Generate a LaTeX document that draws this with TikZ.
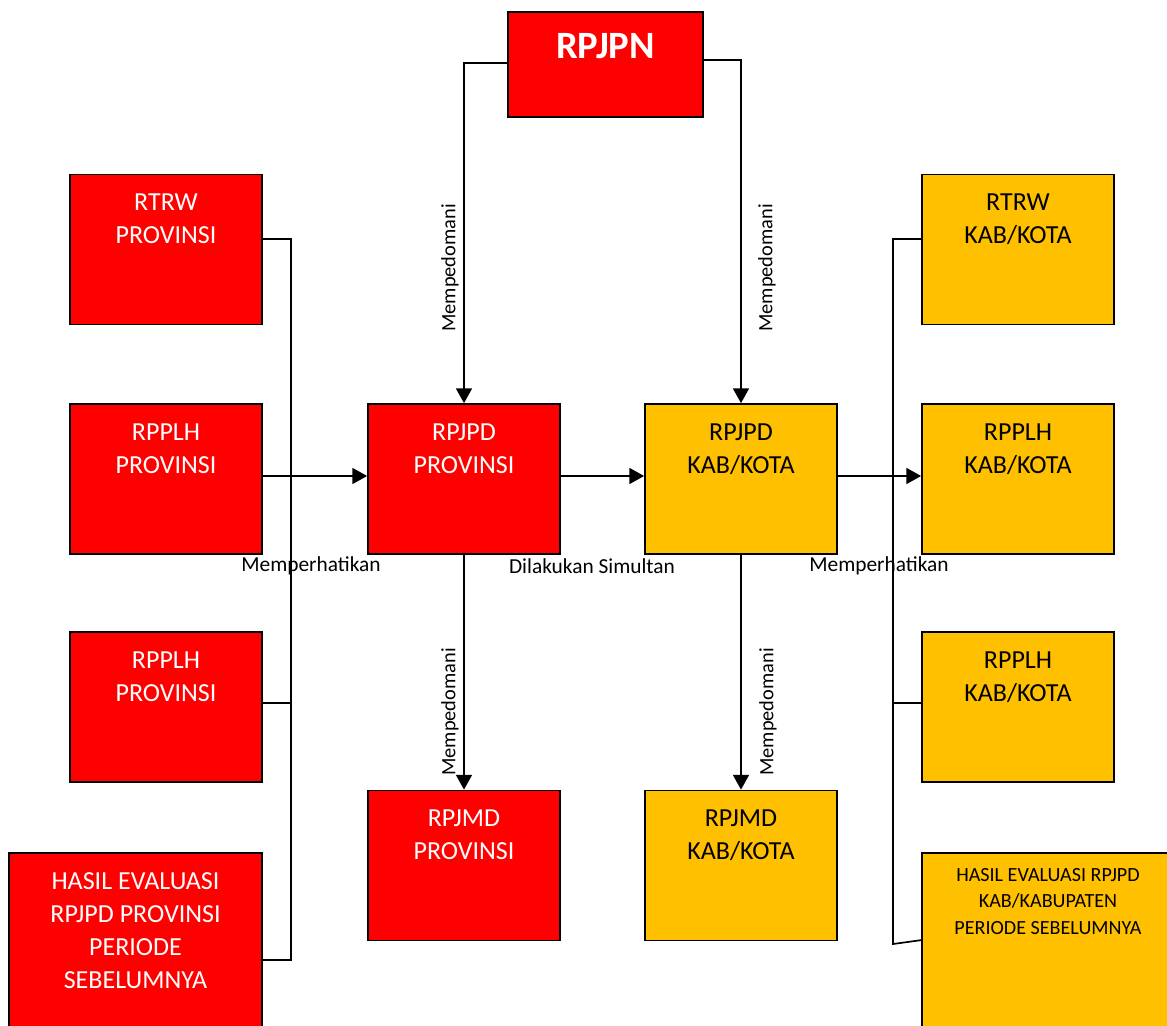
\documentclass[tikz,border=0pt]{standalone}
\usepackage{fontspec}
\setmainfont{Carlito}
\usetikzlibrary{arrows.meta}
\definecolor{kabyellow}{HTML}{FFC000}

\begin{document}
\begin{tikzpicture}[x=0.025cm, y=-0.025cm,
    box/.style={draw=black, line width=1.2pt, inner sep=0pt, minimum width=4.8cm, minimum height=3.75cm},
    redbox/.style={box, fill=red},
    yellowbox/.style={box, fill=kabyellow},
    boxtext/.style={anchor=north, align=center, inner sep=0pt, yshift=-0.5cm, font=\fontsize{18.5}{23.4}\selectfont},
    edge/.style={line width=1.2pt},
    arr/.style={edge, -{Triangle[length=0.37cm, width=0.4cm]}},
    lbl/.style={inner sep=0pt, font=\fontsize{14.5}{17}\selectfont},
    notelbl/.style={inner sep=0pt, font=\fontsize{15.2}{18}\selectfont}]
    \clip (0,0) rectangle (1167,1026);
    \fill[white] (0,0) rectangle (1167,1026);

    \node[redbox, minimum width=4.875cm, minimum height=2.625cm, label={[boxtext, text=white, yshift=-0.05cm, font=\bfseries\fontsize{27.5}{33}\selectfont]north:RPJPN}] (rpjpn) at (605.5,64.5) {};

    \node[redbox, label={[boxtext, text=white]north:{RTRW\\PROVINSI}}] (rtrwprov) at (166,249.5) {};
    \node[redbox, label={[boxtext, text=white]north:{RPPLH\\PROVINSI}}] (rpplhprov) at (166,479) {};
    \node[redbox, label={[boxtext, text=white]north:{RPPLH\\PROVINSI}}] (rpplhprovb) at (166,707) {};
    \node[redbox, minimum width=6.325cm, minimum height=4.425cm, label={[boxtext, text=white]north:{HASIL EVALUASI\\RPJPD PROVINSI\\PERIODE\\SEBELUMNYA}}] (hasilprov) at (135.5,941.5) {};

    \node[redbox, label={[boxtext, text=white]north:{RPJPD\\PROVINSI}}] (rpjpdprov) at (464,479) {};
    \node[yellowbox, label={[boxtext]north:{RPJPD\\KAB/KOTA}}] (rpjpdkab) at (741,479) {};
    \node[redbox, label={[boxtext, text=white]north:{RPJMD\\PROVINSI}}] (rpjmdprov) at (464,865.5) {};
    \node[yellowbox, label={[boxtext]north:{RPJMD\\KAB/KOTA}}] (rpjmdkab) at (741,865.5) {};

    \node[yellowbox, label={[boxtext]north:{RTRW\\KAB/KOTA}}] (rtrwkab) at (1018,249.5) {};
    \node[yellowbox, label={[boxtext]north:{RPPLH\\KAB/KOTA}}] (rpplhkab) at (1018,479) {};
    \node[yellowbox, label={[boxtext]north:{RPPLH\\KAB/KOTA}}] (rpplhkabb) at (1018,707) {};
    \node[yellowbox, minimum width=6.3cm, minimum height=4.425cm, label={[boxtext, yshift=0.1cm, font=\fontsize{14.3}{18.8}\selectfont]north:{HASIL EVALUASI RPJPD\\KAB/KABUPATEN\\PERIODE SEBELUMNYA}}] (hasilkab) at (1048,941.5) {};

    \node[lbl, rotate=90] (mpdprov) at (450,268) {Mempedomani};
    \node[lbl, rotate=90] (mpdkab) at (767,268) {Mempedomani};
    \node[lbl, rotate=90] (mpdrpjmdprov) at (450,712) {Mempedomani};
    \node[lbl, rotate=90] (mpdrpjmdkab) at (768,712) {Mempedomani};
    \node[notelbl] (mphprov) at (311,566) {Memperhatikan};
    \node[notelbl] (simultan) at (592,566) {Dilakukan Simultan};
    \node[notelbl] (mphkab) at (879,566) {Memperhatikan};

    \draw[arr] ([yshift=0.04cm]rpjpn.west) -| (rpjpdprov.north);
    \draw[arr] ([yshift=0.11cm]rpjpn.east) -| (rpjpdkab.north);
    \draw[arr] ([yshift=0.075cm]rpplhprov.east) -- ([yshift=0.075cm]rpjpdprov.west);
    \draw[arr] ([yshift=0.075cm]rpjpdprov.east) -- ([yshift=0.075cm]rpjpdkab.west);
    \draw[arr] ([yshift=0.075cm]rpjpdkab.east) -- ([yshift=0.075cm]rpplhkab.west);
    \draw[arr] (rpjpdprov) -- (rpjmdprov);
    \draw[arr] (rpjpdkab) -- (rpjmdkab);

    \coordinate (lbustop) at (291,239);
    \coordinate (lbusbot) at (291,960);
    \draw[edge] (lbustop -| rtrwprov.east) -- (lbustop) -- (lbusbot) -- (lbusbot -| hasilprov.east);
    \draw[edge] ([yshift=0.1cm]rpplhprovb.east) -- ([yshift=0.1cm]rpplhprovb.east -| lbustop);

    \coordinate (rbustop) at (893,239);
    \coordinate (rbusbot) at (893,944);
    \coordinate (hasilkabin) at (922,940);
    \draw[edge] (rbustop -| rtrwkab.west) -- (rbustop) -- (rbusbot) -- (hasilkabin);
    \draw[edge] ([yshift=0.1cm]rpplhkabb.west) -- ([yshift=0.1cm]rpplhkabb.west -| rbustop);
\end{tikzpicture}
\end{document}
